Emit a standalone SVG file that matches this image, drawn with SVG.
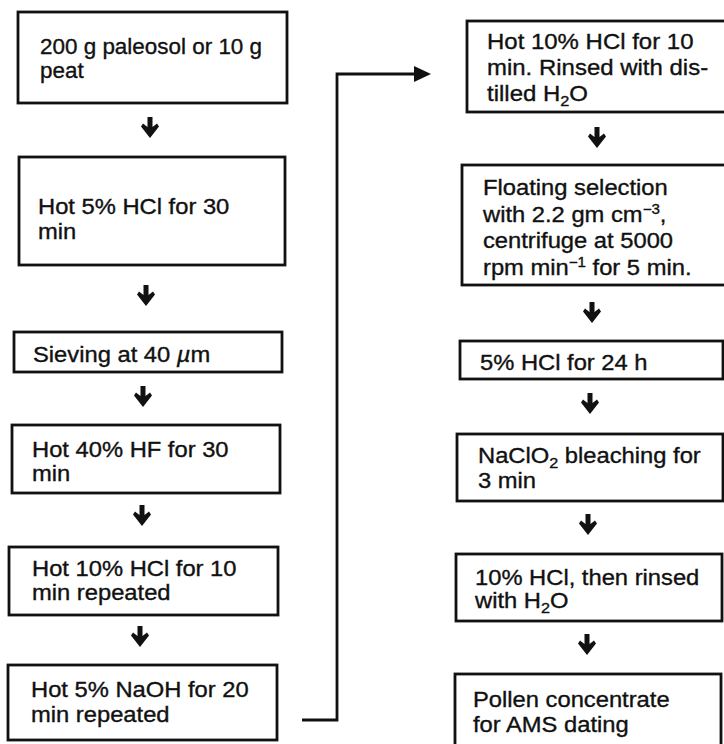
<svg xmlns="http://www.w3.org/2000/svg" xmlns:xlink="http://www.w3.org/1999/xlink" width="724" height="744" viewBox="0 0 724 744">
<style>
.box{fill:#fff;stroke:#111;stroke-width:2.8}
.t{font-family:"Liberation Sans",Arial,sans-serif;font-size:22px;fill:#111;stroke:#111;stroke-width:0.35}
.sub{font-size:15px}
.sup{font-size:14px}
.conn{fill:none;stroke:#111;stroke-width:2.8}
</style>
<defs>
<path id="darr" d="M -2.5 0 H 2.5 V 10 L 7 6.5 L 9 9.5 L 0 21 L -9 9.5 L -7 6.5 L -2.5 10 Z" fill="#111"/>
<marker id="ah" markerUnits="userSpaceOnUse" markerWidth="18" markerHeight="18" refX="1" refY="9" orient="auto">
<path d="M 0 1 L 17 9 L 0 17 Z" fill="#111"/>
</marker>
</defs>
<rect width="724" height="744" fill="#fff"/>

<g id="n1"><rect class="box" x="18" y="12" width="269" height="91"/>
<text class="t" transform="translate(40,54) scale(1.02,1)"><tspan x="0">200 g paleosol or 10 g</tspan><tspan x="0" dy="24">peat</tspan></text></g>
<g id="n2"><rect class="box" x="19" y="157" width="266" height="108"/>
<text class="t" transform="translate(38,214) scale(1.08,1)"><tspan x="0">Hot 5% HCl for 30</tspan><tspan x="0" dy="25">min</tspan></text></g>
<g id="n3"><rect class="box" x="14" y="332" width="268" height="40"/>
<text class="t" transform="translate(33,362) scale(1.08,1)">Sieving at 40 <tspan font-style="italic">µ</tspan>m</text></g>
<g id="n4"><rect class="box" x="12" y="425" width="268" height="68"/>
<text class="t" transform="translate(32,457) scale(1.08,1)"><tspan x="0">Hot 40% HF for 30</tspan><tspan x="0" dy="24">min</tspan></text></g>
<g id="n5"><rect class="box" x="9" y="547" width="269" height="68"/>
<text class="t" transform="translate(32,576) scale(1.08,1)"><tspan x="0">Hot 10% HCl for 10</tspan><tspan x="0" dy="24">min repeated</tspan></text></g>
<g id="n6"><rect class="box" x="8" y="665" width="269" height="75"/>
<text class="t" transform="translate(31,697) scale(1.08,1)"><tspan x="0">Hot 5% NaOH for 20</tspan><tspan x="0" dy="25">min repeated</tspan></text></g>

<g id="n7"><rect class="box" x="467" y="21" width="270" height="91"/>
<text class="t" transform="translate(487,49) scale(1.09,1)"><tspan x="0">Hot 10% HCl for 10</tspan><tspan x="0" dy="26">min. Rinsed with dis-</tspan><tspan x="0" dy="26">tilled H</tspan><tspan class="sub" dy="5">2</tspan><tspan dy="-5">O</tspan></text></g>
<g id="n8"><rect class="box" x="462" y="165" width="270" height="120"/>
<text class="t" transform="translate(483,195) scale(1.08,1)"><tspan x="0">Floating selection</tspan><tspan x="0" dy="27">with 2.2 gm cm</tspan><tspan class="sup" dy="-8">−3</tspan><tspan dy="8">,</tspan><tspan x="0" dy="26">centrifuge at 5000</tspan><tspan x="0" dy="27">rpm min</tspan><tspan class="sup" dy="-8">−1</tspan><tspan dy="8"> for 5 min.</tspan></text></g>
<g id="n9"><rect class="box" x="460" y="341" width="263" height="38"/>
<text class="t" transform="translate(480,370) scale(1.08,1)">5% HCl for 24 h</text></g>
<g id="n10"><rect class="box" x="457" y="434" width="266" height="67"/>
<text class="t" transform="translate(478,463) scale(1.08,1)"><tspan x="0">NaClO</tspan><tspan class="sub" dy="5">2</tspan><tspan dy="-5"> bleaching for</tspan><tspan x="0" dy="25">3 min</tspan></text></g>
<g id="n11"><rect class="box" x="456" y="554" width="266" height="67"/>
<text class="t" transform="translate(475,585) scale(1.08,1)"><tspan x="0">10% HCl, then rinsed</tspan><tspan x="0" dy="23">with H</tspan><tspan class="sub" dy="5">2</tspan><tspan dy="-5">O</tspan></text></g>
<g id="n12"><rect class="box" x="455" y="674" width="266" height="76"/>
<text class="t" transform="translate(473,707) scale(1.08,1)"><tspan x="0">Pollen concentrate</tspan><tspan x="0" dy="25">for AMS dating</tspan></text></g>

<g id="connectors">
<use xlink:href="#darr" x="150" y="117"/>
<use xlink:href="#darr" x="146" y="285"/>
<use xlink:href="#darr" x="143" y="386"/>
<use xlink:href="#darr" x="142" y="505"/>
<use xlink:href="#darr" x="140" y="626"/>
<use xlink:href="#darr" x="597" y="127"/>
<use xlink:href="#darr" x="592" y="302"/>
<use xlink:href="#darr" x="590" y="393"/>
<use xlink:href="#darr" x="588" y="514"/>
<use xlink:href="#darr" x="587" y="634"/>
<path class="conn" d="M 302 720 H 337 V 74 H 415" marker-end="url(#ah)"/>
</g>
</svg>
